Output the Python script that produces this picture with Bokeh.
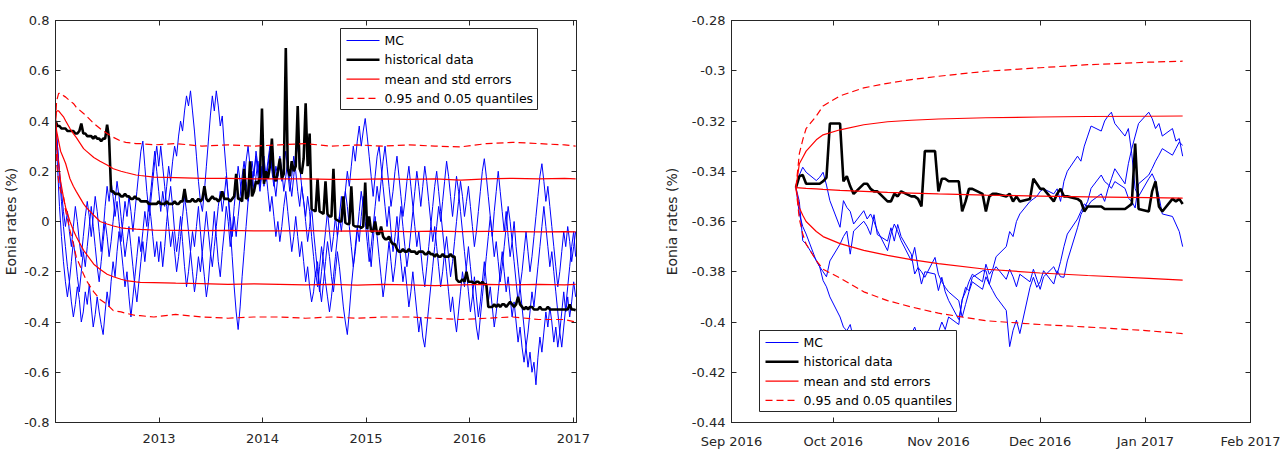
import pandas as pd
from bokeh.plotting import figure
from bokeh.layouts import row
from bokeh.core.properties import value
from bokeh.models import (Range1d, FixedTicker, LinearAxis, DatetimeAxis,
                          DatetimeTickFormatter, CustomJSTickFormatter)
from bokeh.embed import file_html
from bokeh.resources import INLINE

FONT = "DejaVu Sans"
INK = "#262626"
BLUE = "#0000FF"
RED = "#FF0000"
BLACK = "#000000"

# ======================= LEFT PANEL DATA (weekly, from 2012-01-02) =======================
left_first_week = "2012-01-02"

mc1_left = [
    0.40,
    0.22, 0.06, -0.06, -0.16, -0.24, -0.30, -0.24, -0.32, -0.38, -0.33, -0.26, -0.31, -0.40,
    -0.36, -0.28, -0.33, -0.25, -0.34, -0.42, -0.37, -0.30, -0.36, -0.41, -0.45, -0.36, -0.28,
    -0.34, -0.24, -0.16, -0.22, -0.12, -0.04, -0.10, -0.18, -0.26, -0.20, -0.30, -0.38, -0.30,
    -0.22, -0.14, -0.06, -0.12, -0.04, 0.04, -0.02, 0.08, 0.02, -0.06, -0.14, -0.08, -0.16,
    -0.08, -0.18, -0.10, 0.00, 0.08, 0.14, 0.06, -0.04, -0.12, -0.06, 0.02, -0.08, -0.18,
    -0.26, -0.20, -0.12, -0.04, -0.10, -0.02, 0.06, -0.04, -0.14, -0.22, -0.30, -0.24, -0.14,
    -0.06, 0.04, -0.06, -0.16, -0.22, -0.12, -0.04, 0.06, 0.00, -0.10, -0.04, 0.06, 0.14,
    0.22, 0.16, 0.08, 0.16, 0.24, 0.30, 0.22, 0.14, 0.20, 0.26, 0.18, 0.12, 0.20,
    0.24, 0.16, 0.22, 0.28, 0.20, 0.14, 0.22, 0.18, 0.26, 0.20, 0.12, 0.18, 0.24,
    0.16, 0.10, 0.18, 0.26, 0.30, 0.22, 0.14, 0.08, 0.02, 0.10, 0.04, -0.06, -0.14,
    -0.22, -0.16, -0.26, -0.32, -0.24, -0.16, -0.08, -0.14, -0.22, -0.28, -0.20, -0.12, -0.18,
    -0.26, -0.34, -0.40, -0.45, -0.36, -0.26, -0.18, -0.10, -0.02, -0.08, 0.02, 0.10, 0.04,
    0.00, -0.10, -0.18, -0.08, 0.02, -0.06, -0.14, -0.22, -0.30, -0.24, -0.16, -0.08, -0.16,
    -0.24, -0.18, -0.10, -0.02, 0.06, -0.02, -0.10, -0.18, -0.12, -0.04, 0.04, 0.12, 0.20,
    0.14, 0.06, 0.14, 0.22, 0.16, 0.08, 0.00, -0.08, -0.02, -0.10, -0.18, -0.26, -0.20,
    -0.12, -0.20, -0.28, -0.36, -0.30, -0.38, -0.44, -0.36, -0.28, -0.20, -0.26, -0.18, -0.10,
    -0.18, -0.26, -0.34, -0.42, -0.47, -0.38, -0.30, -0.22, -0.14, -0.06, 0.02, -0.06, 0.04,
    0.12, 0.20, 0.12, 0.04, -0.04, 0.04, -0.06, -0.14, -0.08, 0.00, -0.10, -0.18, -0.26,
    -0.20, -0.12, -0.04, -0.12, -0.20, -0.14, -0.06, 0.02, 0.10, 0.18, 0.23, 0.16, 0.08,
    0.14, 0.06, -0.02, -0.10, -0.18, -0.26, -0.20, -0.12, -0.04, -0.10, -0.02, -0.08, -0.16,
    -0.10, -0.04,
]

mc2_left = [
    0.40,
    0.30, 0.20, 0.12, 0.04, -0.02, 0.04, -0.04, -0.10, -0.02, 0.06, 0.00, -0.08, -0.14,
    -0.06, 0.02, 0.08, 0.02, -0.06, 0.02, 0.10, 0.04, -0.04, -0.12, -0.04, 0.06, 0.14,
    0.08, 0.16, 0.10, 0.02, 0.08, 0.00, -0.08, 0.00, 0.08, 0.02, 0.10, 0.04, -0.04,
    0.04, 0.12, 0.20, 0.28, 0.32, 0.22, 0.12, 0.04, 0.12, 0.20, 0.28, 0.20, 0.12,
    0.04, 0.12, 0.06, 0.14, 0.22, 0.16, 0.24, 0.30, 0.26, 0.34, 0.40, 0.36, 0.44,
    0.50, 0.46, 0.52, 0.44, 0.36, 0.26, 0.16, 0.08, 0.04, 0.12, 0.22, 0.32, 0.42,
    0.50, 0.44, 0.52, 0.46, 0.38, 0.42, 0.30, 0.20, 0.10, -0.02, -0.14, -0.26, -0.36,
    -0.43, -0.34, -0.22, -0.12, -0.02, 0.08, 0.16, 0.24, 0.18, 0.28, 0.22, 0.14, 0.20,
    0.26, 0.18, 0.24, 0.30, 0.22, 0.16, 0.10, 0.18, 0.24, 0.16, 0.22, 0.28, 0.20,
    0.12, 0.18, 0.26, 0.20, 0.12, 0.06, 0.14, 0.08, 0.00, -0.08, -0.02, 0.06, -0.04,
    -0.12, -0.20, -0.28, -0.20, -0.12, -0.04, 0.04, -0.04, -0.12, -0.06, 0.02, -0.06, 0.02,
    0.10, 0.04, 0.12, 0.20, 0.14, 0.22, 0.30, 0.24, 0.32, 0.38, 0.30, 0.36, 0.41,
    0.34, 0.26, 0.18, 0.10, 0.18, 0.26, 0.30, 0.22, 0.14, 0.06, -0.02, 0.06, -0.04,
    -0.12, -0.06, 0.02, -0.08, -0.16, -0.24, -0.18, -0.26, -0.34, -0.28, -0.20, -0.28, -0.36,
    -0.44, -0.38, -0.46, -0.50, -0.42, -0.34, -0.26, -0.18, -0.10, -0.02, 0.06, 0.00, 0.08,
    0.16, 0.24, 0.18, 0.10, 0.02, 0.10, 0.18, 0.12, 0.04, -0.04, -0.12, -0.20, -0.28,
    -0.36, -0.30, -0.22, -0.30, -0.38, -0.32, -0.24, -0.16, -0.24, -0.32, -0.26, -0.34, -0.42,
    -0.36, -0.28, -0.20, -0.12, -0.20, -0.28, -0.22, -0.30, -0.38, -0.32, -0.40, -0.48, -0.42,
    -0.50, -0.56, -0.50, -0.58, -0.52, -0.60, -0.56, -0.65, -0.54, -0.46, -0.52, -0.44, -0.36,
    -0.42, -0.34, -0.40, -0.48, -0.42, -0.50, -0.44, -0.36, -0.28, -0.36, -0.30, -0.38, -0.32,
    -0.24, -0.30,
]

mc3_left = [
    0.40,
    0.30, 0.18, 0.08, -0.02, -0.10, -0.18, -0.24, -0.16, -0.08, -0.14, -0.22, -0.28, -0.20,
    -0.12, -0.18, -0.10, -0.02, 0.06, -0.02, -0.10, -0.18, -0.24, -0.16, -0.08, 0.00, -0.06,
    -0.14, -0.08, 0.00, 0.08, 0.16, 0.10, 0.02, -0.06, -0.14, -0.08, -0.02, -0.10, -0.18,
    -0.26, -0.32, -0.24, -0.16, -0.08, -0.16, -0.08, 0.00, 0.08, 0.16, 0.24, 0.30, 0.22,
    0.30, 0.22, 0.14, 0.06, -0.02, -0.10, -0.04, -0.12, -0.20, -0.14, -0.06, 0.02, 0.10,
    0.04, -0.04, -0.12, -0.20, -0.28, -0.22, -0.14, -0.20, -0.12, -0.04, 0.04, -0.04, -0.12,
    -0.18, -0.10, -0.02, 0.06, 0.12, 0.04, 0.10, 0.18, 0.10, 0.02, -0.06, 0.02, -0.06,
    0.02, 0.10, 0.18, 0.24, 0.16, 0.08, 0.14, 0.20, 0.12, 0.18, 0.24, 0.16, 0.22,
    0.14, 0.20, 0.12, 0.04, 0.10, 0.02, -0.06, 0.00, -0.08, -0.02, 0.06, 0.12, 0.04,
    -0.04, -0.12, -0.06, 0.02, -0.06, -0.14, -0.08, -0.16, -0.24, -0.18, -0.26, -0.32, -0.28,
    -0.20, -0.26, -0.18, -0.10, -0.16, -0.24, -0.30, -0.36, -0.30, -0.22, -0.14, -0.06, 0.02,
    -0.04, 0.04, 0.12, 0.06, -0.02, -0.10, -0.18, -0.12, -0.04, 0.04, 0.12, 0.06, 0.00,
    -0.08, -0.16, -0.10, -0.02, 0.06, 0.14, 0.08, 0.16, 0.24, 0.30, 0.22, 0.14, 0.06,
    0.12, 0.20, 0.26, 0.18, 0.10, 0.02, 0.08, 0.16, 0.22, 0.14, 0.06, -0.02, -0.10,
    -0.04, -0.12, -0.20, -0.26, -0.18, -0.10, -0.02, 0.06, 0.14, 0.20, 0.12, 0.04, -0.04,
    -0.12, -0.06, -0.14, -0.22, -0.16, -0.08, 0.00, 0.08, 0.16, 0.10, 0.02, 0.08, 0.14,
    0.06, -0.02, -0.10, -0.04, 0.04, 0.12, 0.20, 0.25, 0.18, 0.10, 0.02, -0.06, -0.14,
    -0.08, -0.16, -0.24, -0.18, -0.10, -0.02, 0.06, 0.00, -0.08, -0.16, -0.24, -0.32, -0.26,
    -0.34, -0.42, -0.50, -0.44, -0.36, -0.28, -0.34, -0.26, -0.18, -0.10, -0.02, 0.06, -0.02,
    -0.10, -0.18, -0.12, -0.20, -0.28, -0.36, -0.44, -0.50, -0.42, -0.34, -0.26, -0.18, -0.10,
    -0.04, -0.14,
]

hist_left = [
    0.40,
    0.38, 0.38, 0.37, 0.37, 0.37, 0.36, 0.36, 0.36, 0.36, 0.35, 0.35, 0.36, 0.39,
    0.35, 0.35, 0.34, 0.34, 0.34, 0.33, 0.34, 0.33, 0.33, 0.32, 0.33, 0.33, 0.385,
    0.33, 0.12, 0.12, 0.11, 0.11, 0.11, 0.10, 0.10, 0.11, 0.10, 0.10, 0.09, 0.09,
    0.10, 0.09, 0.09, 0.08, 0.08, 0.08, 0.08, 0.07, 0.07, 0.07, 0.07, 0.07, 0.08,
    0.07, 0.07, 0.07, 0.08, 0.07, 0.07, 0.07, 0.08, 0.07, 0.07, 0.08, 0.08, 0.13,
    0.08, 0.08, 0.08, 0.09, 0.08, 0.08, 0.09, 0.08, 0.09, 0.14, 0.09, 0.08, 0.09,
    0.10, 0.09, 0.09, 0.08, 0.09, 0.12, 0.09, 0.09, 0.09, 0.08, 0.09, 0.10, 0.19,
    0.09, 0.09, 0.08, 0.21, 0.09, 0.10, 0.24, 0.10, 0.12, 0.16, 0.15, 0.18, 0.45,
    0.15, 0.20, 0.17, 0.22, 0.33, 0.18, 0.16, 0.20, 0.25, 0.17, 0.19, 0.69, 0.21,
    0.18, 0.24, 0.20, 0.22, 0.46, 0.21, 0.19, 0.25, 0.47, 0.22, 0.35, 0.05, 0.045,
    0.04, 0.17, 0.04, 0.035, 0.03, 0.16, 0.03, 0.02, 0.02, 0.21, 0.01, 0.005, 0.00,
    0.00, 0.10, -0.005, -0.01, -0.01, 0.14, -0.015, -0.02, -0.02, -0.02, -0.025, -0.02, 0.155,
    -0.03, 0.02, -0.04, -0.04, 0.00, -0.05, -0.05, -0.02, -0.06, -0.07, -0.07, -0.06, -0.08,
    -0.09, -0.09, -0.11, -0.12, -0.12, -0.11, -0.12, -0.12, -0.11, -0.12, -0.12, -0.12, -0.13,
    -0.12, -0.12, -0.12, -0.13, -0.13, -0.12, -0.13, -0.13, -0.14, -0.13, -0.14, -0.14, -0.13,
    -0.14, -0.14, -0.14, -0.13, -0.14, -0.14, -0.23, -0.24, -0.24, -0.23, -0.24, -0.20, -0.24,
    -0.24, -0.24, -0.25, -0.24, -0.24, -0.25, -0.24, -0.25, -0.25, -0.34, -0.34, -0.34, -0.33,
    -0.34, -0.33, -0.34, -0.33, -0.33, -0.34, -0.33, -0.32, -0.33, -0.34, -0.33, -0.30, -0.33,
    -0.34, -0.35, -0.34, -0.35, -0.34, -0.34, -0.35, -0.35, -0.35, -0.34, -0.35, -0.35, -0.35,
    -0.34, -0.35, -0.35, -0.35, -0.35, -0.35, -0.35, -0.35, -0.35, -0.35, -0.35, -0.33, -0.35,
    -0.35, -0.353,
]

curve_dates_left = [
    "2012-01-02", "2012-01-06", "2012-01-13", "2012-01-20", "2012-01-31", "2012-02-07",
    "2012-02-22", "2012-03-05", "2012-03-15", "2012-04-10", "2012-04-20", "2012-05-16",
    "2012-06-07", "2012-07-02", "2012-07-24", "2012-08-20", "2012-09-06", "2012-10-12",
    "2012-10-27", "2012-12-14", "2013-03-01", "2013-06-01", "2013-09-01", "2013-12-01",
    "2014-03-01", "2014-06-01", "2014-09-01", "2014-12-01", "2015-03-01", "2015-06-01",
    "2015-09-01", "2015-12-01", "2016-03-01", "2016-06-01", "2016-09-01", "2016-12-01",
    "2017-01-09",
]
q95_left = [0.40, 0.48, 0.51, 0.51, 0.50, 0.495, 0.48, 0.47, 0.455, 0.43, 0.42, 0.39,
            0.37, 0.35, 0.335, 0.32, 0.315, 0.31, 0.31, 0.305, 0.31, 0.30, 0.305, 0.30,
            0.305, 0.31, 0.30, 0.305, 0.30, 0.305, 0.30, 0.297, 0.31, 0.315, 0.31, 0.305, 0.30]
std_up_left = [0.40, 0.44, 0.44, 0.43, 0.415, 0.40, 0.37, 0.35, 0.335, 0.29, 0.28, 0.255,
               0.24, 0.225, 0.21, 0.20, 0.195, 0.185, 0.183, 0.177, 0.175, 0.172, 0.172, 0.17,
               0.17, 0.17, 0.168, 0.168, 0.17, 0.168, 0.17, 0.165, 0.17, 0.172, 0.17, 0.172, 0.17]
mean_left = [0.40, 0.36, 0.32, 0.28, 0.25, 0.23, 0.17, 0.14, 0.12, 0.07, 0.055, 0.025,
             0.0, -0.01, -0.018, -0.025, -0.027, -0.03, -0.031, -0.034, -0.035, -0.036, -0.035,
             -0.037, -0.037, -0.036, -0.038, -0.037, -0.038, -0.040, -0.038, -0.040, -0.039,
             -0.040, -0.041, -0.040, -0.041]
std_dn_left = [0.40, 0.30, 0.23, 0.16, 0.09, 0.055, 0.0, -0.035, -0.06, -0.115, -0.13, -0.17,
               -0.19, -0.21, -0.22, -0.23, -0.235, -0.24, -0.242, -0.243, -0.245, -0.247, -0.25,
               -0.248, -0.25, -0.252, -0.25, -0.253, -0.25, -0.252, -0.255, -0.252, -0.25,
               -0.252, -0.25, -0.252, -0.25]
q05_left = [0.40, 0.23, 0.16, 0.12, 0.095, 0.04, -0.035, -0.09, -0.14, -0.21, -0.235, -0.28,
            -0.31, -0.33, -0.355, -0.36, -0.365, -0.375, -0.375, -0.38, -0.37, -0.38, -0.385,
            -0.38, -0.38, -0.385, -0.38, -0.385, -0.38, -0.38, -0.385, -0.39, -0.385, -0.38,
            -0.39, -0.39, -0.40]

left_x_range = ("2012-01-02", "2017-01-12")
left_year_ticks = ["2013-01-01", "2014-01-01", "2015-01-01", "2016-01-01", "2017-01-01"]
left_y_ticks = [-0.8, -0.6, -0.4, -0.2, 0.0, 0.2, 0.4, 0.6, 0.8]

# ======================= RIGHT PANEL DATA (business days) =======================
right_first_day = "2016-09-20"
right_last_day = "2017-01-12"

hist_right = [
    -0.3465, -0.342, -0.3415, -0.345, -0.345, -0.345, -0.344, -0.3425, -0.321, -0.321,
    -0.344, -0.342, -0.346, -0.349, -0.345, -0.345, -0.347, -0.348, -0.348, -0.352,
    -0.352, -0.349, -0.350, -0.348, -0.350, -0.350, -0.351, -0.354, -0.332, -0.332,
    -0.348, -0.343, -0.343, -0.344, -0.344, -0.356, -0.352, -0.347, -0.347, -0.349,
    -0.356, -0.350, -0.349, -0.349, -0.350, -0.349, -0.352, -0.350, -0.352, -0.351,
    -0.343, -0.345, -0.347, -0.347, -0.352, -0.349, -0.347, -0.350, -0.350, -0.351,
    -0.352, -0.356, -0.354, -0.354, -0.354, -0.355, -0.355, -0.355, -0.355, -0.355,
    -0.354, -0.353, -0.329, -0.355, -0.356, -0.348, -0.344, -0.354, -0.356, -0.351,
    -0.352, -0.351, -0.353,
]

mcA_right = [
    -0.3465, -0.352, -0.3676, -0.369, -0.3755, -0.378, -0.3835, -0.386, -0.390, -0.398,
    -0.402, -0.4035, -0.401, -0.407, -0.404, -0.410, -0.414, -0.419, -0.416, -0.421,
    -0.417, -0.413, -0.409, -0.412, -0.405, -0.402, -0.406, -0.410, -0.413, -0.409,
    -0.404, -0.400, -0.403, -0.398, -0.401, -0.391, -0.388, -0.384, -0.381, -0.384,
    -0.377, -0.381, -0.379, -0.374, -0.370, -0.364, -0.366, -0.360, -0.357, -0.352,
    -0.351, -0.350, -0.348, -0.347, -0.349, -0.347, -0.352, -0.344, -0.340, -0.334,
    -0.336, -0.330, -0.326, -0.322, -0.324, -0.320, -0.318, -0.3165, -0.321, -0.326,
    -0.323, -0.333, -0.347, -0.350, -0.343, -0.341, -0.344, -0.350, -0.357, -0.358,
    -0.361, -0.364, -0.370,
]

mcB_right = [
    -0.3465, -0.357, -0.362, -0.365, -0.3757, -0.378, -0.380, -0.382, -0.3757, -0.369,
    -0.366, -0.3638, -0.373, -0.3638, -0.3599, -0.362, -0.3652, -0.3573, -0.3652, -0.3678,
    -0.3625, -0.3678, -0.3612, -0.366, -0.373, -0.3809, -0.3783, -0.3849, -0.380, -0.3809,
    -0.3875, -0.3822, -0.388, -0.3914, -0.399, -0.3914, -0.3862, -0.3875, -0.3822, -0.3796,
    -0.3796, -0.3849, -0.3875, -0.390, -0.3954, -0.4098, -0.4033, -0.3993, -0.4046, -0.3862,
    -0.3822, -0.3862, -0.384, -0.3796, -0.3849, -0.3796, -0.382, -0.3822, -0.3757, -0.3625,
    -0.3573, -0.3546, -0.352, -0.3468, -0.3415, -0.3441, -0.3452, -0.3468, -0.3441, -0.3468,
    -0.3507, -0.352, -0.3546, -0.345, -0.3415, -0.3389, -0.336, -0.3336, -0.331, -0.3336,
    -0.331, -0.3284, -0.3297,
]

mcC_right = [
    -0.3465, -0.3415, -0.3384, -0.3404, -0.3437, -0.3424, -0.3404, -0.3455, -0.3517, -0.3623,
    -0.3517, -0.3544, -0.356, -0.361, -0.3557, -0.359, -0.357, -0.360, -0.3636, -0.3716,
    -0.365, -0.361, -0.364, -0.3676, -0.3756, -0.3703, -0.3783, -0.380, -0.3822, -0.3743,
    -0.381, -0.384, -0.3862, -0.388, -0.3915, -0.3981, -0.393, -0.388, -0.384, -0.387,
    -0.382, -0.385, -0.380, -0.378, -0.383, -0.379, -0.382, -0.386, -0.381, -0.384,
    -0.379, -0.383, -0.387, -0.382, -0.378, -0.381, -0.376, -0.370, -0.365, -0.359,
    -0.356, -0.353, -0.354, -0.352, -0.349, -0.352, -0.347, -0.343, -0.339, -0.345,
    -0.337, -0.331, -0.326, -0.321, -0.3165, -0.319, -0.323, -0.321, -0.326, -0.323,
    -0.328, -0.327, -0.334,
]

curve_dates_right = [
    "2016-09-20", "2016-09-21", "2016-09-22", "2016-09-23", "2016-09-26", "2016-09-28",
    "2016-10-03", "2016-10-10", "2016-10-17", "2016-10-24", "2016-11-01", "2016-11-15",
    "2016-12-01", "2016-12-15", "2017-01-02", "2017-01-12",
]
q95_right = [-0.3465, -0.3330, -0.3275, -0.3230, -0.3180, -0.3140, -0.3100, -0.3068,
             -0.3050, -0.3035, -0.3022, -0.3002, -0.2988, -0.2976, -0.2966, -0.2962]
std_up_right = [-0.3465, -0.3370, -0.3345, -0.3320, -0.3275, -0.3255, -0.3235, -0.3215,
                -0.3203, -0.3197, -0.3192, -0.3187, -0.3184, -0.3182, -0.3181, -0.3180]
mean_right = [-0.3465, -0.3466, -0.3467, -0.3468, -0.3470, -0.3472, -0.3476, -0.3480,
              -0.3484, -0.3487, -0.3490, -0.3495, -0.3499, -0.3502, -0.3505, -0.3507]
std_dn_right = [-0.3465, -0.3545, -0.3575, -0.3600, -0.3640, -0.3660, -0.3688, -0.3715,
                -0.3735, -0.3752, -0.3768, -0.3790, -0.3805, -0.3815, -0.3826, -0.3833]
q05_right = [-0.3465, -0.3590, -0.3650, -0.3690, -0.3755, -0.3790, -0.3825, -0.3880,
             -0.3915, -0.3940, -0.3965, -0.3995, -0.4010, -0.4020, -0.4035, -0.4046]

right_x_range = ("2016-09-01", "2017-02-01")
right_month_ticks = ["2016-09-01", "2016-10-01", "2016-11-01", "2016-12-01",
                     "2017-01-01", "2017-02-01"]
right_y_ticks = [-0.44, -0.42, -0.40, -0.38, -0.36, -0.34, -0.32, -0.30, -0.28]

legend_labels = ["MC", "historical data", "mean and std errors", "0.95 and 0.05 quantiles"]
y_title = "Eonia rates (%)"

# ======================= layout constants =======================
FRAME_H = 402
TOP = 20
DASH = "7 4"

NUM_CODE = r"""
let s = tick.toFixed(2);
s = s.replace(/0+$/, '').replace(/\.$/, '');
if (s === '-0') { s = '0'; }
return s;
"""


def ms(s):
    return pd.Timestamp(s).value / 1e6


def build(x_rng, y_ticks, x_ticks, x_fmt, frame_w, b_left, b_right):
    p = figure(x_axis_type="datetime",
               x_range=Range1d(pd.Timestamp(x_rng[0]), pd.Timestamp(x_rng[1])),
               y_range=Range1d(y_ticks[0], y_ticks[-1]),
               frame_width=frame_w, frame_height=FRAME_H,
               min_border_left=b_left, min_border_right=b_right,
               min_border_top=TOP, min_border_bottom=30,
               toolbar_location=None, output_backend="svg")
    p.grid.visible = False
    p.outline_line_color = INK
    p.background_fill_color = "white"
    p.border_fill_color = "white"

    xa = p.xaxis[0]
    ya = p.yaxis[0]
    xa.ticker = FixedTicker(ticks=[ms(t) for t in x_ticks])
    xa.formatter = DatetimeTickFormatter(days=x_fmt, months=x_fmt, years=x_fmt)
    ya.ticker = FixedTicker(ticks=y_ticks)
    ya.formatter = CustomJSTickFormatter(code=NUM_CODE)

    top = DatetimeAxis(ticker=FixedTicker(ticks=[ms(t) for t in x_ticks]))
    rgt = LinearAxis(ticker=FixedTicker(ticks=y_ticks))
    p.add_layout(top, "above")
    p.add_layout(rgt, "right")

    for ax in (xa, ya, top, rgt):
        ax.major_tick_in = 5
        ax.major_tick_out = 0
        ax.minor_tick_line_color = None
        ax.axis_line_color = INK
        ax.axis_line_width = 1
        ax.major_tick_line_color = INK
        ax.major_label_text_font = FONT
        ax.major_label_text_color = INK
        ax.major_label_text_font_size = "13px"
        ax.major_label_standoff = 6
    for ax in (top, rgt):
        ax.major_label_text_color = None
        ax.major_label_text_font_size = "1px"
        ax.major_label_standoff = 0
    xa.major_label_standoff = 11

    ya.axis_label = y_title
    ya.axis_label_text_font = FONT
    ya.axis_label_text_font_size = "14px"
    ya.axis_label_text_font_style = "normal"
    ya.axis_label_text_color = INK
    return p


def draw(p, x_daily, mcs, hist, cdates, q95, sup, mean, sdn, q05):
    cd = pd.to_datetime(cdates)
    for s in mcs:
        p.line(x_daily, s, line_color=BLUE, line_width=1)
    p.line(x_daily, hist, line_color=BLACK, line_width=2.6)
    for s in (mean, sup, sdn):
        p.line(cd, s, line_color=RED, line_width=1.2)
    for s in (q95, q05):
        p.line(cd, s, line_color=RED, line_width=1.2, line_dash=DASH)


def box_legend(p, x_rng, y_ticks, frame_w, box_left, box_top):
    # legend drawn as ordinary glyphs, positioned in frame pixels
    x0, x1 = ms(x_rng[0]), ms(x_rng[1])
    y0, y1 = y_ticks[0], y_ticks[-1]

    def fx(px):
        return x0 + px / frame_w * (x1 - x0)

    def fy(py):
        return y1 - py / FRAME_H * (y1 - y0)

    bw, bh = 197, 81
    p.quad(left=[fx(box_left)], right=[fx(box_left + bw)],
           top=[fy(box_top)], bottom=[fy(box_top + bh)],
           fill_color="white", line_color=INK, line_width=1)
    styles = [dict(line_color=BLUE, line_width=1),
              dict(line_color=BLACK, line_width=2.6),
              dict(line_color=RED, line_width=1.2),
              dict(line_color=RED, line_width=1.2, line_dash=DASH)]
    ys = []
    for k, st in enumerate(styles):
        yy = fy(box_top + 12 + 19.3 * k)
        ys.append(yy)
        p.line([fx(box_left + 6), fx(box_left + 39)], [yy, yy], **st)
    p.text(x=[fx(box_left + 44)] * 4, y=ys, text=legend_labels,
           text_font=value(FONT), text_font_size=value("12.5px"),
           text_baseline="middle", text_align="left", text_color=BLACK)


# ======================= LEFT =======================
weeks = pd.date_range(left_first_week, periods=len(hist_left), freq="7D")
p1 = build(left_x_range, left_y_ticks, left_year_ticks, "%Y", 521, 52, 67)
p1.yaxis[0].axis_label_standoff = 2
draw(p1, weeks, [mc1_left, mc2_left, mc3_left], hist_left, curve_dates_left,
     q95_left, std_up_left, mean_left, std_dn_left, q05_left)
box_legend(p1, left_x_range, left_y_ticks, 521, 285, 8)

# ======================= RIGHT =======================
bdays = pd.bdate_range(right_first_day, right_last_day)
p2 = build(right_x_range, right_y_ticks, right_month_ticks, "%b %Y", 519, 88, 32)
p2.yaxis[0].axis_label_standoff = 9
draw(p2, bdays, [mcA_right, mcB_right, mcC_right], hist_right, curve_dates_right,
     q95_right, std_up_right, mean_right, std_dn_right, q05_right)
box_legend(p2, right_x_range, right_y_ticks, 519, 28, 310)

layout = row(p1, p2)
open("out.html", "w").write(file_html(layout, INLINE))
